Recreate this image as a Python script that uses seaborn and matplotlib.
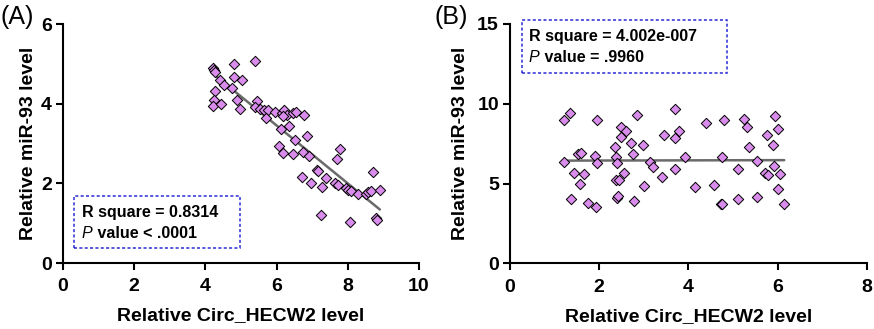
import numpy as np
import pandas as pd
import matplotlib
matplotlib.use("Agg")
import matplotlib.pyplot as plt
from matplotlib.patches import Rectangle
import seaborn as sns

# Panel A data
a_x = [4.22, 4.24, 4.27, 4.80, 5.39, 4.79, 5.02, 4.41, 4.52, 4.74, 4.27, 4.24, 4.21, 4.43,
       4.88, 4.97, 5.46, 5.39, 5.53, 5.64, 5.77, 5.70, 5.95, 6.14, 6.21, 6.28, 6.19, 6.47,
       6.54, 6.78, 6.36, 6.11, 6.51, 6.84, 6.07, 6.17, 6.45, 6.73, 6.92, 7.79, 7.70, 7.14,
       7.17, 7.38, 6.70, 6.98, 7.28, 7.64, 7.73, 7.94, 8.01, 8.10, 8.29, 8.50, 8.57, 8.66,
       8.71, 8.90, 7.26, 8.07, 8.79, 8.82]
a_y = [4.89, 4.85, 4.80, 5.00, 5.08, 4.68, 4.60, 4.60, 4.47, 4.39, 4.31, 4.10, 3.95, 4.00,
       4.10, 3.86, 4.06, 3.91, 3.86, 3.85, 3.83, 3.64, 3.80, 3.76, 3.85, 3.72, 3.70, 3.76,
       3.78, 3.72, 3.43, 3.36, 3.09, 3.18, 2.93, 2.76, 2.74, 2.78, 2.69, 2.86, 2.61, 2.34,
       2.30, 2.13, 2.17, 2.01, 1.91, 2.02, 1.96, 1.88, 1.84, 1.80, 1.74, 1.74, 1.77, 1.80,
       2.29, 1.84, 1.21, 1.02, 1.13, 1.09]

# Panel B data
b_x = [1.21, 1.35, 1.21, 1.36, 1.44, 1.53, 1.59, 1.57, 1.67, 1.76, 1.92, 1.96, 1.91, 1.96,
       2.36, 2.38, 2.41, 2.38, 2.45, 2.39, 2.43, 2.49, 2.50, 2.60, 2.56, 2.72, 2.75, 2.79,
       2.84, 2.98, 3.01, 3.14, 3.21, 3.40, 3.45, 3.69, 3.70, 3.79, 3.70, 3.93, 4.15, 4.40,
       4.58, 4.75, 4.79, 4.73, 4.76, 5.12, 5.12, 5.25, 5.31, 5.35, 5.53, 5.55, 5.72, 5.79,
       5.77, 5.89, 5.92, 5.94, 6.02, 6.06, 6.02, 6.15]
b_y = [8.98, 9.44, 6.37, 4.03, 5.64, 6.85, 6.89, 4.95, 5.60, 3.80, 3.55, 8.98, 6.73, 6.27,
       7.27, 6.64, 6.31, 5.22, 5.22, 4.07, 4.22, 7.94, 8.52, 8.31, 5.64, 7.52, 6.85, 3.93,
       9.30, 7.42, 4.85, 6.37, 6.06, 5.43, 8.04, 9.67, 7.83, 8.31, 5.89, 6.64, 4.76, 8.82,
       4.91, 6.68, 8.98, 3.72, 3.72, 5.89, 4.01, 9.02, 8.56, 7.27, 6.43, 4.14, 5.68, 5.54,
       8.04, 7.42, 6.10, 9.23, 8.40, 5.60, 4.64, 3.72]

x_label = "Relative Circ_HECW2 level"
y_label = "Relative miR-93 level"
a_xticks = [0, 2, 4, 6, 8, 10]
a_yticks = [0, 2, 4, 6]
b_xticks = [0, 2, 4, 6, 8]
b_yticks = [0, 5, 10, 15]
a_stats = ["R square = 0.8314", " value < .0001"]
b_stats = ["R square = 4.002e-007", " value = .9960"]

sns.set_style("ticks")
plt.rcParams['font.family'] = ['Liberation Sans', 'DejaVu Sans']
plt.rcParams['font.weight'] = 'bold'
plt.rcParams['axes.labelweight'] = 'bold'
plt.rcParams['text.color'] = 'black'
plt.rcParams['axes.labelcolor'] = 'black'
plt.rcParams['axes.edgecolor'] = 'black'
plt.rcParams['xtick.color'] = 'black'
plt.rcParams['ytick.color'] = 'black'

W, H = 874, 329
fig = plt.figure(figsize=(W / 100, H / 100), dpi=100)

def axrect(x0, x1, ytop, ybot):
    return [x0 / W, 1 - ybot / H, (x1 - x0) / W, (ybot - ytop) / H]

axA = fig.add_axes(axrect(63, 419, 24, 263))
axB = fig.add_axes(axrect(510, 866.7, 24, 263.3))

mcolor = "#D98CEB"

def panel(ax, xs, ys, xticks, yticks, stats, box, txt_xy, letter, letter_xy, ylab_x):
    df = pd.DataFrame({"x": xs, "y": ys})
    sns.regplot(data=df, x="x", y="y", ax=ax, ci=None, marker="D",
                scatter_kws=dict(s=28, color=mcolor, edgecolor="black", linewidths=0.7,
                                 alpha=1, zorder=3),
                line_kws=dict(color="#6a6a6a", lw=1.8, zorder=2))
    ax.set_xlim(xticks[0], xticks[-1])
    ax.set_ylim(yticks[0], yticks[-1])
    ax.set_xticks(xticks, [str(t) for t in xticks])
    ax.set_yticks(yticks, [str(t) for t in yticks])
    for s in ["top", "right"]:
        ax.spines[s].set_visible(False)
    for s in ["left", "bottom"]:
        ax.spines[s].set_linewidth(1.5)
        ax.spines[s].set_color("black")
    ax.tick_params(axis="x", width=1.5, length=5, direction="out", pad=6,
                   labelsize=14, colors="black")
    ax.tick_params(axis="y", width=1.5, length=5, direction="out", pad=3,
                   labelsize=14, colors="black")
    for lab in ax.get_xticklabels() + ax.get_yticklabels():
        lab.set_fontweight("bold")
    ax.set_xlabel(x_label, fontsize=14, fontweight="bold")
    ax.set_ylabel(y_label, fontsize=14, fontweight="bold")
    ax.xaxis.set_label_coords(0.5, -0.185)
    ax.yaxis.set_label_coords(ylab_x, 0.5)
    x0, y0, x1, y1 = box
    ax.add_patch(Rectangle((x0, y0), x1 - x0, y1 - y0, transform=ax.transAxes,
                           fill=False, edgecolor="#2b2bd6", lw=1.1, ls=(0, (2, 1.5)),
                           clip_on=False, zorder=5))
    tx, ty = txt_xy
    ax.text(tx, ty, stats[0], transform=ax.transAxes, fontsize=11.5, fontweight="bold",
            va="center", ha="left")
    ax.text(tx, ty - 0.088, "P", transform=ax.transAxes, fontsize=11.5, style="italic",
            fontweight="normal", va="center", ha="left")
    ax.text(tx + 0.032, ty - 0.088, stats[1], transform=ax.transAxes, fontsize=11.5,
            fontweight="bold", va="center", ha="left")
    fig.text(letter_xy[0] / W, 1 - letter_xy[1] / H, letter, fontsize=18,
             fontweight="normal", ha="left", va="center")

panel(axA, a_x, a_y, a_xticks, a_yticks, a_stats, (0.031, 0.063, 0.497, 0.28),
      (0.052, 0.21), "(A)", (0, 17), -0.073)
panel(axB, b_x, b_y, b_xticks, b_yticks, b_stats, (0.034, 0.795, 0.608, 1.017),
      (0.053, 0.947), "(B)", (434, 17), -0.115)

fig.savefig("out.png", dpi=100)
